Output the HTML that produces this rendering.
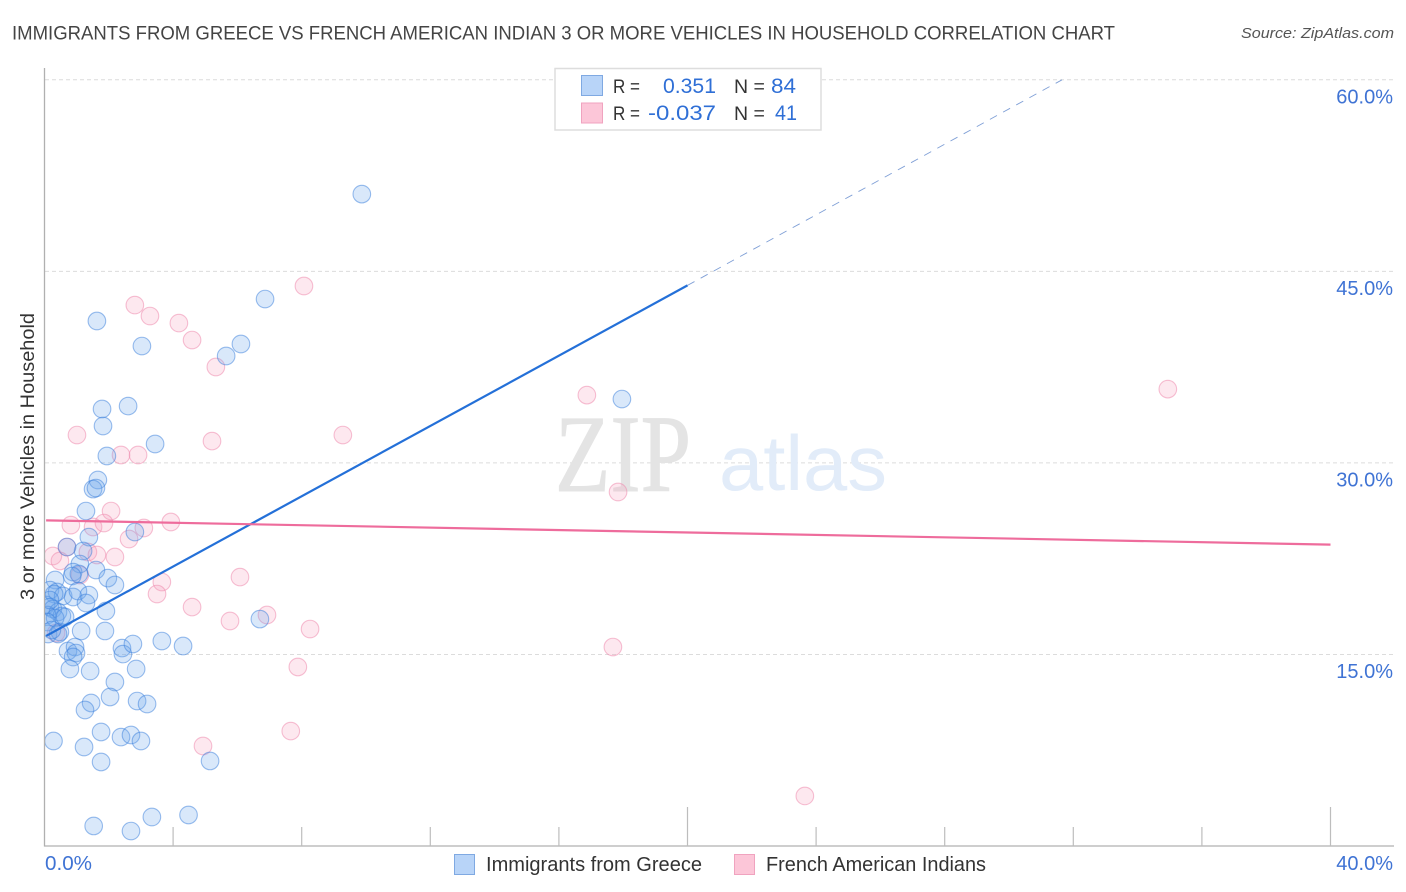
<!DOCTYPE html>
<html lang="en">
<head>
<meta charset="utf-8">
<title>Immigrants from Greece vs French American Indian correlation chart</title>
<style>
html,body{margin:0;padding:0;background:#fff;width:1406px;height:892px;overflow:hidden}
svg{display:block;font-family:"Liberation Sans",sans-serif}
</style>
</head>
<body>
<svg id="chart" xmlns="http://www.w3.org/2000/svg" width="1406" height="892" viewBox="0 0 1406 892">
  <defs><clipPath id="plot-clip"><rect x="45" y="60" width="1349" height="786"/></clipPath></defs>
  <text x="12" y="39.500" font-size="19.500" fill="#444" textLength="1103" lengthAdjust="spacingAndGlyphs">IMMIGRANTS FROM GREECE VS FRENCH AMERICAN INDIAN 3 OR MORE VEHICLES IN HOUSEHOLD CORRELATION CHART</text>
  <text x="1241" y="38" font-size="15" font-style="italic" fill="#555" textLength="153" lengthAdjust="spacingAndGlyphs">Source: ZipAtlas.com</text>
  <g id="grid"></g>
  <text x="555" y="491" font-family="'Liberation Serif',serif" font-size="110" fill="#e4e4e4" stroke="#e4e4e4" stroke-width="1" textLength="136" lengthAdjust="spacingAndGlyphs">ZIP</text>
  <text x="719" y="490" font-size="78" fill="#e2ecf9" textLength="168" lengthAdjust="spacingAndGlyphs">atlas</text>
  <g id="points" clip-path="url(#plot-clip)"></g>
  <g id="trends"></g>
  <g id="axes"></g>
  <g>
    <rect x="555" y="68.500" width="266" height="61.500" fill="#fff" stroke="#ddd" stroke-width="1.500"/>
    <rect x="581.500" y="75.500" width="21" height="20" fill="#b8d4f8" stroke="#7fa9e2"/>
    <rect x="581.500" y="103" width="21" height="20" fill="#fcc6d8" stroke="#f0a3bf"/>
    <text x="613" y="93" font-size="19.500" fill="#333" textLength="27" lengthAdjust="spacingAndGlyphs">R =</text>
    <text x="663" y="93" font-size="21" fill="#2f6fd6" textLength="53" lengthAdjust="spacingAndGlyphs">0.351</text>
    <text x="734" y="93" font-size="19.500" fill="#333">N =</text>
    <text x="771" y="93" font-size="21" fill="#2f6fd6" textLength="25" lengthAdjust="spacingAndGlyphs">84</text>
    <text x="613" y="120" font-size="19.500" fill="#333" textLength="27" lengthAdjust="spacingAndGlyphs">R =</text>
    <text x="648" y="120" font-size="21" fill="#2f6fd6" textLength="68" lengthAdjust="spacingAndGlyphs">-0.037</text>
    <text x="734" y="120" font-size="19.500" fill="#333">N =</text>
    <text x="775" y="120" font-size="21" fill="#2f6fd6" textLength="22" lengthAdjust="spacingAndGlyphs">41</text>
  </g>
  <g>
    <rect x="454.500" y="854.500" width="20" height="20" fill="#b8d4f8" stroke="#7fa9e2"/>
    <text x="486" y="871" font-size="20" fill="#333" textLength="216" lengthAdjust="spacingAndGlyphs">Immigrants from Greece</text>
    <rect x="734.500" y="854.500" width="20" height="20" fill="#fcc6d8" stroke="#f0a3bf"/>
    <text x="766" y="871" font-size="20" fill="#333" textLength="220" lengthAdjust="spacingAndGlyphs">French American Indians</text>
  </g>
  <text transform="translate(34,456.500) rotate(-90)" font-size="19.500" fill="#333" text-anchor="middle" textLength="287" lengthAdjust="spacingAndGlyphs">3 or more Vehicles in Household</text>
</svg>
<script>
var greeceX = [9.87,6.86,6.11,5.65,3.03,1.63,1.79,2.60,1.82,3.44,1.94,1.66,1.51,1.60,1.29,1.38,2.81,0.70,1.20,1.10,1.60,1.97,2.19,0.89,1.07,0.86,0.33,0.17,0.39,0.58,0.89,1.04,1.38,1.29,1.91,0.30,0.05,0.17,0.26,0.42,0.54,0.08,0.33,0.08,0.11,0.48,0.42,1.14,1.88,2.41,2.44,2.75,3.65,4.31,0.73,0.95,0.98,0.89,0.79,1.42,2.85,2.19,2.04,1.45,1.26,2.88,3.19,1.76,2.38,2.69,3.00,0.28,1.23,1.76,5.15,6.70,17.96,4.48,3.34,1.53,2.69,0.64,0.23,0.17];
var greeceY = [51.05,42.83,39.31,38.37,39.15,41.11,34.22,34.45,32.89,31.48,30.54,28.66,27.95,28.03,26.23,24.19,24.59,23.41,23.10,22.08,21.61,20.98,20.44,21.45,21.30,21.14,20.83,20.04,19.89,19.58,19.50,19.97,19.65,19.03,18.40,19.73,18.87,18.71,18.56,18.32,18.01,18.09,17.85,17.54,16.60,16.76,16.60,16.84,16.84,15.50,15.03,15.82,16.05,15.66,15.27,15.58,15.11,14.80,13.86,13.70,13.86,12.84,11.67,11.20,10.65,11.35,11.12,8.93,8.53,8.69,8.22,8.22,7.75,6.58,6.66,17.77,35.00,2.43,2.27,1.57,1.17,17.93,16.91,19.26];
var frenchX = [8.07,2.81,3.28,4.18,4.59,5.33,16.87,34.94,1.01,5.21,9.28,2.38,2.91,17.84,2.07,0.82,1.51,1.85,3.93,3.09,2.63,0.70,1.35,1.63,0.26,0.48,2.19,1.10,3.65,3.50,6.08,4.59,5.77,6.92,8.26,7.88,17.68,7.66,4.93,23.65,0.36];
var frenchY = [43.85,42.36,41.50,40.95,39.62,37.51,35.31,35.78,32.18,31.71,32.18,30.62,30.62,27.72,26.23,25.13,24.98,25.29,25.37,24.90,24.04,23.41,23.02,22.79,22.71,22.32,22.63,21.22,20.67,19.73,21.06,18.71,17.62,18.09,16.99,14.02,15.58,9.00,7.83,3.92,16.68];
var greeceTrendX = [0.05,20.0];
var greeceTrendY = [16.45,43.9];
var greeceExtendX = [20.0,31.65];
var greeceExtendY = [43.9,60.0];
var frenchTrendX = [0.05,40.0];
var frenchTrendY = [25.5,23.6];
var yTicks = [15,30,45,60];
var yTickLabels = ["15.0%","30.0%","45.0%","60.0%"];
var xTicks = [4,8,12,16,20,24,28,32,36,40];
var xMajorTicks = [20,40];
var xEndLabels = ["0.0%","40.0%"];

function sx(v){return 44.5+v*32.15;}
function sy(v){return 846-v*12.77;}
var NS='http://www.w3.org/2000/svg';
function mk(tag,attrs,parent){var e=document.createElementNS(NS,tag);for(var k in attrs){e.setAttribute(k,attrs[k]);}parent.appendChild(e);return e;}
var grid=document.getElementById('grid'),axes=document.getElementById('axes'),pts=document.getElementById('points'),trends=document.getElementById('trends');

yTicks.forEach(function(t,i){
  var l=mk('line',{x1:45,x2:1394,y1:sy(t),y2:sy(t),stroke:'#dcdcdc','stroke-width':1,'stroke-dasharray':'4 3'},grid);
  
  
  var tx=mk('text',{x:1393,y:sy(t)+23.5,'font-size':20,fill:'#3f73d4','text-anchor':'end'},axes);
  tx.textContent=yTickLabels[i];
  
  
});
var ya=mk('line',{x1:44.5,x2:44.5,y1:68,y2:846.5,stroke:'#b0b0b0','stroke-width':1.3},axes);


var xa=mk('line',{x1:44,x2:1394,y1:846,y2:846,stroke:'#b0b0b0','stroke-width':1.3},axes);


xTicks.forEach(function(t){
  var major=xMajorTicks.indexOf(t)>=0;
  var k=mk('line',{x1:sx(t),x2:sx(t),y1:major?807:827,y2:846,stroke:'#bdbdbd','stroke-width':1.2},axes);
  
  
});
var xl0=mk('text',{x:45,y:870,'font-size':20,fill:'#3f73d4',textLength:47,lengthAdjust:'spacingAndGlyphs'},axes);
xl0.textContent=xEndLabels[0];


var xl1=mk('text',{x:1393,y:870,'font-size':20,fill:'#3f73d4','text-anchor':'end'},axes);
xl1.textContent=xEndLabels[1];



frenchX.forEach(function(v,i){
  var c=mk('circle',{cx:sx(v),cy:sy(frenchY[i]),r:8.8,fill:'rgba(248,160,190,0.24)',stroke:'rgba(238,140,175,0.55)','stroke-width':1.1},pts);
  
  
});
greeceX.forEach(function(v,i){
  var c=mk('circle',{cx:sx(v),cy:sy(greeceY[i]),r:8.8,fill:'rgba(110,165,235,0.26)',stroke:'rgba(55,125,220,0.5)','stroke-width':1.1},pts);
  
  
});

var t1=mk('line',{x1:sx(greeceTrendX[0]),y1:sy(greeceTrendY[0]),x2:sx(greeceTrendX[1]),y2:sy(greeceTrendY[1]),stroke:'#2470d8','stroke-width':2.2},trends);


var t2=mk('line',{x1:sx(greeceExtendX[0]),y1:sy(greeceExtendY[0]),x2:sx(greeceExtendX[1]),y2:sy(greeceExtendY[1]),stroke:'#7f9fd6','stroke-width':0.9,'stroke-dasharray':'8 7'},trends);


var t3=mk('line',{x1:sx(frenchTrendX[0]),y1:sy(frenchTrendY[0]),x2:sx(frenchTrendX[1]),y2:sy(frenchTrendY[1]),stroke:'#ee6c9c','stroke-width':2.2},trends);


</script>
</body>
</html>
